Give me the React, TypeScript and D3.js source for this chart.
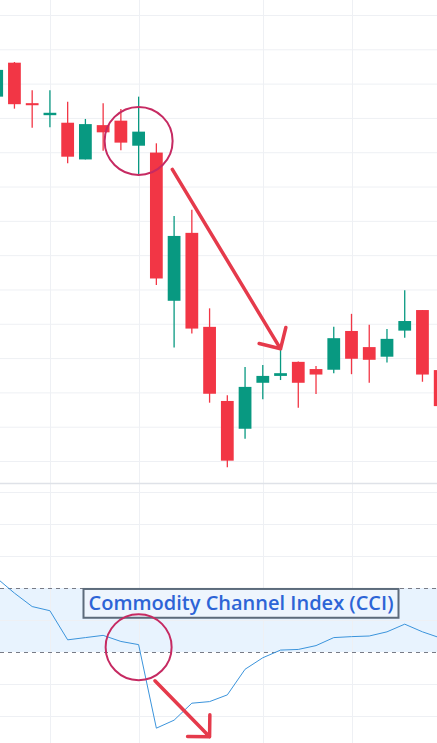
import React, { useEffect, useRef } from 'react';
import * as d3 from 'd3';

// OHLC per bar (index = bar position)
const opens = [106.2, 116.1, 104.3, 100.8, 98.6, 87.9, 97.9, 99.2, 91.9, 89.9, 46.7, 66.5, 39.1, 17.5, 9.4, 22.8, 24.8, 28.9, 26.8, 26.6, 37.9, 33.2, 30.4, 38.0, 44.0, 26.5];
const highs = [114.2, 116.3, 108.1, 108.1, 104.7, 99.7, 104.3, 102.6, 106.2, 92.6, 71.4, 73.2, 44.5, 19.2, 27.4, 28.0, 32.7, 29.0, 27.7, 39.1, 42.9, 39.7, 38.5, 49.8, 44.0, 26.5];
const lows = [105.8, 102.7, 97.1, 97.3, 86.8, 87.9, 90.4, 90.6, 83.4, 51.3, 33.1, 37.2, 17.0, -1.8, 6.5, 18.0, 23.6, 15.5, 19.5, 25.6, 25.3, 22.8, 28.7, 35.9, 23.1, 15.0];
const closes = [114.0, 104.0, 103.7, 101.5, 88.7, 98.2, 95.8, 92.8, 96.0, 53.2, 65.6, 38.6, 19.6, 0.1, 21.6, 24.8, 25.6, 22.8, 25.2, 35.8, 29.8, 29.5, 35.6, 40.8, 25.2, 16.0];

const cciValues = [131, 84, 42, 29, -62, -55, -48, -67, -77, -338, -313, -260, -255, -234, -154, -118, -94, -92, -80, -55, -52, -50, -37, -13, -37, -56];

const priceTicks = [0, 10, 20, 30, 40, 50, 60, 70, 80, 90, 100, 110, 120, 130];
const cciTicks = [-300, -200, 0, 200, 300, 400];
const cciBands = [100, -100];
const timeGridBars = [3, 8, 15, 20];

const W = 437;
const H = 743;

const App: React.FC = () => {
  const svgRef = useRef<SVGSVGElement>(null);

  useEffect(() => {
    if (!svgRef.current) return;
    const svg = d3.select(svgRef.current);
    svg.selectAll('*').remove();

    const x = d3.scaleLinear().domain([0, 25]).range([-3.3, 440.2]);
    const y = d3.scaleLinear().domain([0, 130]).range([461, 15]);
    const yc = d3.scaleLinear().domain([-400, 400]).range([748, 492]);
    const step = x(1) - x(0);
    const bw = step * 0.72;

    const up = '#089981';
    const down = '#f23645';
    const grid = '#eef0f4';

    svg.append('rect').attr('width', W).attr('height', H).attr('fill', '#ffffff');

    // CCI band
    svg.append('rect')
      .attr('x', 0).attr('width', W)
      .attr('y', yc(100)).attr('height', yc(-100) - yc(100))
      .attr('fill', '#e8f3fe');

    // horizontal grid, price pane
    svg.selectAll('.pg').data(priceTicks).enter().append('line')
      .attr('x1', 0).attr('x2', W)
      .attr('y1', d => y(d) + 0.5).attr('y2', d => y(d) + 0.5)
      .attr('stroke', grid).attr('stroke-width', 1);

    // horizontal grid, cci pane
    svg.selectAll('.cg').data(cciTicks).enter().append('line')
      .attr('x1', 0).attr('x2', W)
      .attr('y1', d => yc(d) + 0.5).attr('y2', d => yc(d) + 0.5)
      .attr('stroke', grid).attr('stroke-width', 1);

    // vertical grid
    svg.selectAll('.vg').data(timeGridBars).enter().append('line')
      .attr('x1', d => Math.round(x(d)) + 0.5).attr('x2', d => Math.round(x(d)) + 0.5)
      .attr('y1', 0).attr('y2', H)
      .attr('stroke', grid).attr('stroke-width', 1);

    // pane separator
    svg.append('line')
      .attr('x1', 0).attr('x2', W).attr('y1', 483.5).attr('y2', 483.5)
      .attr('stroke', '#dfe2e8').attr('stroke-width', 1.5);

    // band lines
    svg.selectAll('.bl').data(cciBands).enter().append('line')
      .attr('x1', 0).attr('x2', W)
      .attr('y1', d => yc(d) + 0.5).attr('y2', d => yc(d) + 0.5)
      .attr('stroke', '#787b86').attr('stroke-width', 1)
      .attr('stroke-dasharray', '4,4');

    // candles
    const idx = d3.range(opens.length);
    const g = svg.append('g');
    g.selectAll('.wick').data(idx).enter().append('line')
      .attr('x1', i => x(i)).attr('x2', i => x(i))
      .attr('y1', i => y(highs[i])).attr('y2', i => y(lows[i]))
      .attr('stroke', i => (closes[i] >= opens[i] ? up : down))
      .attr('stroke-width', 1.3);
    g.selectAll('.body').data(idx).enter().append('rect')
      .attr('x', i => x(i) - bw / 2)
      .attr('width', bw)
      .attr('y', i => y(Math.max(opens[i], closes[i])))
      .attr('height', i => Math.max(2, Math.abs(y(opens[i]) - y(closes[i]))))
      .attr('fill', i => (closes[i] >= opens[i] ? up : down));

    // CCI line
    const line = d3.line<number>()
      .x((_, i) => x(i))
      .y(d => yc(d));
    svg.append('path')
      .datum(cciValues)
      .attr('fill', 'none')
      .attr('stroke', '#3b94dc')
      .attr('stroke-width', 1)
      .attr('d', line);

    // label
    const lx0 = 83.5, lx1 = 398.5;
    svg.append('rect')
      .attr('x', lx0).attr('width', lx1 - lx0)
      .attr('y', yc(97)).attr('height', yc(7) - yc(97))
      .attr('fill', '#eef5fd')
      .attr('stroke', '#5c6b7b').attr('stroke-width', 2);
    svg.append('text')
      .attr('x', (lx0 + lx1) / 2)
      .attr('y', yc(30))
      .attr('text-anchor', 'middle')
      .attr('font-family', "'Open Sans', sans-serif")
      .attr('font-weight', 600)
      .attr('font-size', 19.5)
      .attr('fill', '#2d64d6')
      .attr('textLength', 305)
      .attr('lengthAdjust', 'spacingAndGlyphs')
      .text('Commodity Channel Index (CCI)');

    // annotations
    const ring = '#c62a62';
    svg.append('circle')
      .attr('cx', x(8)).attr('cy', y(93.3)).attr('r', 34)
      .attr('fill', 'none').attr('stroke', ring).attr('stroke-width', 2);
    svg.append('circle')
      .attr('cx', x(8)).attr('cy', yc(-85)).attr('r', 33)
      .attr('fill', 'none').attr('stroke', ring).attr('stroke-width', 2);

    const arrow = (x1: number, y1: number, x2: number, y2: number) => {
      const a = Math.atan2(y2 - y1, x2 - x1) + Math.PI;
      const len = 22;
      const p = d3.path();
      p.moveTo(x1, y1);
      p.lineTo(x2, y2);
      p.moveTo(x2 + len * Math.cos(a - Math.PI / 4), y2 + len * Math.sin(a - Math.PI / 4));
      p.lineTo(x2, y2);
      p.lineTo(x2 + len * Math.cos(a + Math.PI / 4), y2 + len * Math.sin(a + Math.PI / 4));
      svg.append('path')
        .attr('d', p.toString())
        .attr('fill', 'none')
        .attr('stroke', '#e53a4b')
        .attr('stroke-width', 3.5)
        .attr('stroke-linecap', 'round')
        .attr('stroke-linejoin', 'round');
    };
    arrow(x(9.9), y(85.0), x(16), y(highs[16]));
    arrow(x(8.92), yc(-190), x(12), yc(-365));
  }, []);

  return (
    <div style={{ position: 'fixed', left: 0, top: 0, width: W, height: H }}>
      <svg ref={svgRef} width={W} height={H} viewBox={`0 0 ${W} ${H}`} style={{ display: 'block' }} />
    </div>
  );
};

export default App;
